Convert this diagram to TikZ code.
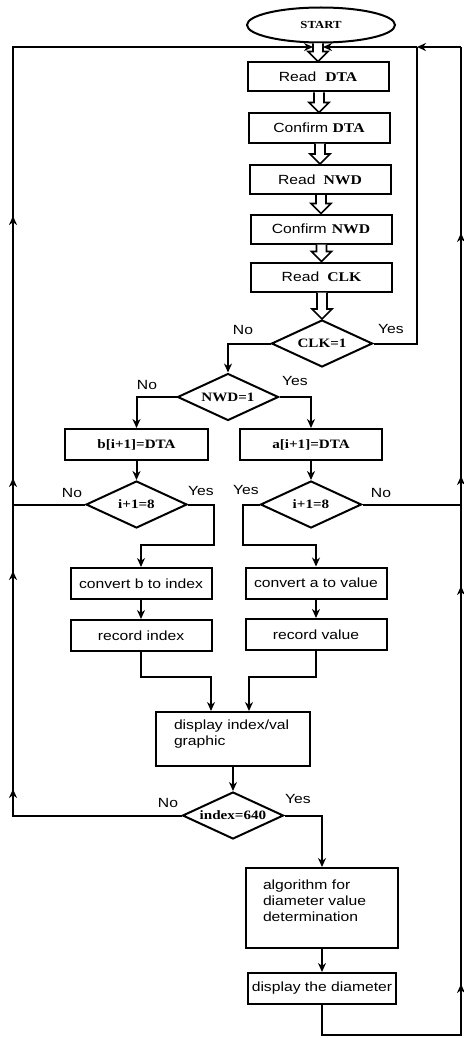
\documentclass[tikz,border=0pt]{standalone}
\usepackage{fontspec}
\setmainfont[FakeStretch=1.18]{Liberation Serif}
\newfontfamily\arialfont[FakeStretch=1.18]{Liberation Sans}
\usepackage{tikz}
\usetikzlibrary{
	arrows.meta,
	calc,
	shapes.geometric,
	positioning
}
\newcommand{\tb}[1]{{\rmfamily\bfseries #1}}
\newcommand{\fatarrow}[2]{%
	\draw[fatline] let \p1=(#1.south), \p2=(#2.north) in
		(\x2-5pt,\y1) -- (\x2-5pt,\y2+10pt) -- (\x2-10pt,\y2+10pt) -- (\x2,\y2)
		-- (\x2+10pt,\y2+10pt) -- (\x2+5pt,\y2+10pt) -- (\x2+5pt,\y1);}

\begin{document}
\begin{tikzpicture}[x=1pt, y=-1pt, line width=2pt,
	proc/.style={draw, rectangle, minimum width=141pt, minimum height=29pt, inner sep=0pt, font=\arialfont\fontsize{13.3}{16}\selectfont},
	dec/.style={draw, diamond, aspect=2.15, minimum width=101pt, minimum height=47pt, inner sep=0pt, font=\bfseries\fontsize{12.8}{15}\selectfont},
	term/.style={draw, ellipse, minimum width=148pt, minimum height=35pt, inner sep=0pt, font=\bfseries\fontsize{10.8}{12}\selectfont},
	lbl/.style={font=\arialfont\fontsize{13.3}{16}\selectfont},
	arr/.style={-{Stealth[length=9pt,width=8pt]}},
	fatline/.style={line width=1.7pt, fill=white}]
	\useasboundingbox (0,0) rectangle (463,1038);

	\node[term] (start) at (321,25) {START};
	\node[proc] (rdta) at (318,77) {Read\hspace{9pt}\tb{DTA}};
	\node[proc] (cdta) at (319,128) {Confirm \tb{DTA}};
	\node[proc] (rnwd) at (320,179.5) {Read\hspace{8pt}\tb{NWD}};
	\node[proc] (cnwd) at (321,229) {Confirm\hspace{5pt}\tb{NWD}};
	\node[proc] (rclk) at (321.5,277) {Read\hspace{8pt}\tb{CLK}};
	\node[dec] (clk) at (322,343.5) {CLK=1};
	\node[dec] (nwd) at (228,397) {NWD=1};
	\node[proc, font=\bfseries\fontsize{12.8}{15}\selectfont, minimum width=143pt, minimum height=31pt] (bdta) at (136.5,444.5) {b[i+1]=DTA};
	\node[proc, font=\bfseries\fontsize{12.8}{15}\selectfont, minimum width=142pt, minimum height=31pt] (adta) at (311,444.5) {a[i+1]=DTA};
	\node[dec] (ib) at (136.5,504.5) {i+1=8};
	\node[dec] (ia) at (311,504.5) {i+1=8};
	\node[proc, minimum height=31pt] (cvb) at (141,583.5) {convert b to index};
	\node[proc, minimum height=31pt] (cva) at (316,583) {convert a to value};
	\node[proc, minimum height=31pt] (rci) at (141,635.5) {record index};
	\node[proc, minimum height=31pt] (rcv) at (316,634.5) {record value};
	\node[proc, text width=118pt, align=left, inner xsep=18pt, minimum height=54pt] (disp) at (233,739) {display index/val\\graphic\\[-4pt]\mbox{}};
	\node[dec] (idx) at (233,815.5) {index=640};
	\node[proc, text width=118pt, align=left, inner xsep=17pt, minimum height=80pt] (algo) at (322,908) {algorithm for\\diameter value\\determination\\[-2pt]\mbox{}};
	\node[proc, minimum width=148pt, minimum height=31pt] (diam) at (322,988.5) {display the diameter};

	\node[lbl] (clkno) at (243,330) {No};
	\node[lbl] (clkyes) at (391,329) {Yes};
	\node[lbl] (nwdno) at (147,385) {No};
	\node[lbl] (nwdyes) at (295,381) {Yes};
	\node[lbl] (ibno) at (72,493) {No};
	\node[lbl] (ibyes) at (201,491) {Yes};
	\node[lbl] (iayes) at (246,490) {Yes};
	\node[lbl] (iano) at (381,493) {No};
	\node[lbl] (idxno) at (168,803) {No};
	\node[lbl] (idxyes) at (298,799) {Yes};

	\coordinate (lt) at (13,47);
	\coordinate (rt) at (461,47);
	\coordinate (ct) at (417,47);
	\coordinate (jl) at (313,47);
	\coordinate (jr) at (323,47);

	\fatarrow{start}{rdta}
	\fatarrow{rdta}{cdta}
	\fatarrow{cdta}{rnwd}
	\fatarrow{rnwd}{cnwd}
	\fatarrow{cnwd}{rclk}
	\fatarrow{rclk}{clk}

	\draw[arr] (clk.west) -| (nwd.north);
	\draw (clk.east) -| (ct);
	\draw[arr] (nwd.west) -| (bdta.north);
	\draw[arr] (nwd.east) -| (adta.north);
	\draw[arr] (bdta.south) -- (ib.north);
	\draw[arr] (adta.south) -- (ia.north);
	\draw[arr] (ib.east) -- ++(26,0) |- ($(cvb.north)+(0,-22)$) -- (cvb.north);
	\draw[arr] (ia.west) -- ++(-17,0) |- ($(cva.north)+(0,-22)$) -- (cva.north);
	\draw (ib.west) -- (ib.west -| lt);
	\draw (ia.east) -- (ia.east -| rt);
	\draw[arr] (cvb.south) -- (rci.north);
	\draw[arr] (cva.south) -- (rcv.north);
	\draw[arr] (rci.south) -- ++(0,25) -| ($(disp.north)+(-22,0)$);
	\draw[arr] (rcv.south) -- ++(0,26) -| ($(disp.north)+(16,0)$);
	\draw[arr] (disp.south) -- (idx.north);
	\draw[arr] (idx.west) -| (lt) -- (jl);
	\draw[arr] (idx.east) -| (algo.north);
	\draw[arr] (algo.south) -- (diam.north);
	\draw (diam.south) -- ++(0,30) -| (rt);
	\draw[arr] (rt) -- (ct);
	\draw[arr] (ct) -- (jr);
	\foreach \y in {220,482,575,793} \draw[arr] (13,\y+5) -- (13,\y-4);
	\foreach \y in {237,480,590,988} \draw[arr] (461,\y+5) -- (461,\y-4);
\end{tikzpicture}
\end{document}
